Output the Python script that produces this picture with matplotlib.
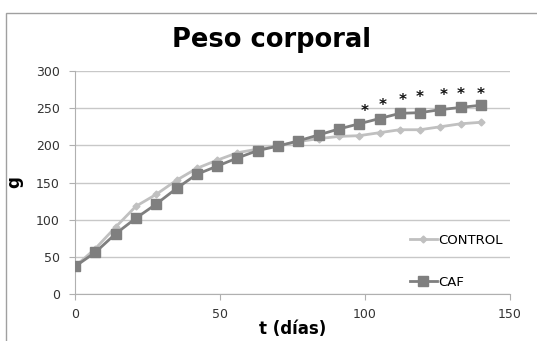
import matplotlib
matplotlib.use('Agg')
import matplotlib.pyplot as plt
from matplotlib.patches import Rectangle

days = [0, 7, 14, 21, 28, 35, 42, 49, 56, 63, 70, 77, 84, 91, 98, 105, 112, 119, 126, 133, 140]
control = [37, 61, 90, 118, 134, 153, 169, 180, 190, 195, 199, 205, 209, 212, 213, 217, 221, 221, 225, 229, 231]
caf = [37, 56, 81, 102, 121, 142, 161, 172, 183, 193, 199, 206, 214, 222, 229, 236, 243, 244, 248, 251, 254]
star_days = [100, 106, 113, 119, 127, 133, 140]
star_vals = [245, 253, 260, 265, 267, 269, 269]

plt.rcParams['font.family'] = ['DejaVu Sans']

fig = plt.figure(figsize=(5.37, 3.41), dpi=100)
fig.patches.append(Rectangle((6 / 537, -0.1), 1.2, 1 - 13 / 341 + 0.1,
                             transform=fig.transFigure, fill=False,
                             edgecolor='#a0a0a0', linewidth=1.0))
ax = fig.add_axes([75 / 537, 1 - 294 / 341, 435 / 537, 223 / 341])

ax.plot(days, control, color='#c0c0c0', marker='D', markersize=3.5,
        linewidth=2, label='CONTROL', zorder=3)
ax.plot(days, caf, color='#7f7f7f', marker='s', markersize=6.5,
        linewidth=2, label='CAF', zorder=4)
for d, v in zip(star_days, star_vals):
    ax.text(d, v, '*', ha='center', va='center', fontsize=11,
            fontweight='bold', color='#111111')

ax.set_xlim(0, 150)
ax.set_ylim(0, 300)
ax.set_xticks([0, 50, 100, 150])
ax.set_yticks(range(0, 301, 50))
ax.yaxis.grid(True, color='#c8c8c8', linewidth=1)
ax.set_axisbelow(True)
for s in ['top', 'right']:
    ax.spines[s].set_visible(False)
for s in ['left', 'bottom']:
    ax.spines[s].set_color('#b0b0b0')
ax.tick_params(axis='both', colors='#b0b0b0', labelcolor='#333333',
               labelsize=9, length=4)
ax.tick_params(axis='x', pad=6)
ax.tick_params(axis='y', pad=7)

fig.text(272 / 537, 1 - 40 / 341, 'Peso corporal', ha='center', va='center',
         fontsize=18.5, fontweight='bold')
ax.set_xlabel('t (días)', fontsize=12, fontweight='bold', labelpad=-1)
ax.set_ylabel('g', fontsize=12, fontweight='bold', labelpad=9)

ax.legend(loc='lower right', bbox_to_anchor=(1.01, -0.03), frameon=False,
          fontsize=9.5, labelspacing=2.2, handlelength=2.0, handletextpad=0.1)

fig.savefig('out.png', dpi=100)
